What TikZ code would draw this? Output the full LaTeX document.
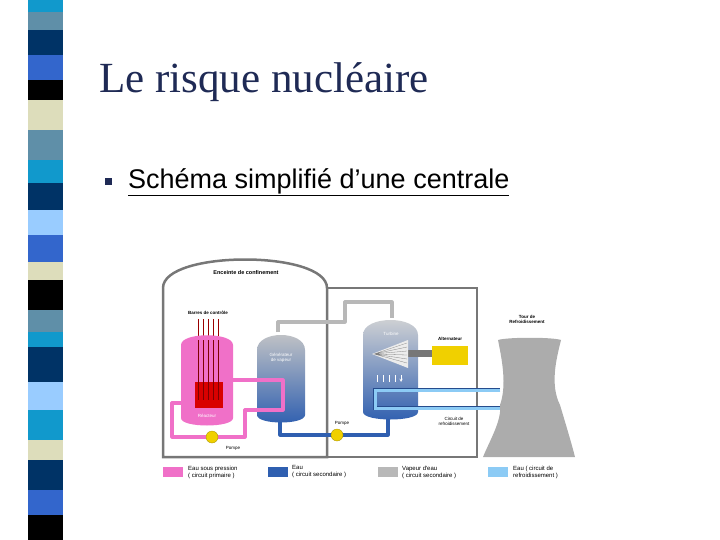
\documentclass[tikz,border=0pt]{standalone}
\usepackage{fontspec}
\setmainfont{Liberation Serif}
\newfontfamily\arial{Liberation Sans}
\usetikzlibrary{shapes.geometric}
\definecolor{scyan}{HTML}{1199CC}\definecolor{sslate}{HTML}{5F8FA8}
\definecolor{snavy}{HTML}{003366}\definecolor{sblue}{HTML}{3366CC}
\definecolor{scream}{HTML}{DDDDBB}\definecolor{slight}{HTML}{99CCFF}
\definecolor{wallg}{HTML}{777777}\definecolor{pinkc}{HTML}{F070C8}
\definecolor{bluec}{HTML}{2F5FB0}\definecolor{steamc}{HTML}{B8B8B8}
\definecolor{coolc}{HTML}{8CCBF5}\definecolor{yel}{HTML}{F0D000}
\definecolor{titlec}{HTML}{1F2A55}
\tikzset{wall/.style={draw=wallg,line width=2.5pt},
 pipe/.style={line width=3.2pt,line join=round},
 lab/.style={font=\arial\fontsize{4.5}{5}\selectfont,align=center,inner sep=0pt},
 leg/.style={font=\arial\fontsize{6}{7}\selectfont,align=left,anchor=west,inner sep=0pt},
 legbox/.style={minimum width=20pt,minimum height=10pt,inner sep=0pt}}
\begin{document}
\begin{tikzpicture}[x=1pt,y=-1pt]
\useasboundingbox (0,0) rectangle (720,540);
% stripe
\foreach \a/\b/\c in {0/12/scyan,12/30/sslate,30/55/snavy,55/80/sblue,80/100/black,100/130/scream,130/160/sslate,160/183/scyan,183/210/snavy,210/235/slight,235/262/sblue,262/280/scream,280/310/black,310/332/sslate,332/347/scyan,347/382/snavy,382/410/slight,410/440/scyan,440/460/scream,460/490/snavy,490/515/sblue,515/540/black}
 \fill[\c] (28,\a) rectangle (63,\b);
\node[anchor=west,inner sep=0pt,text=titlec,font=\fontsize{43}{48}\selectfont] (title) at (99,82) {Le risque nucléaire};
\node[fill=titlec,minimum size=7pt,inner sep=0pt] (bul) at (108,182) {};
\node[anchor=west,inner sep=0pt,font=\arial\fontsize{27}{30}\selectfont] (sub) at (128,182) {\underline{Schéma simplifié d’une centrale}};
% buildings
\draw[wall] (327,288) rectangle (477,457);
\draw[wall,fill=white] (163,457) -- (163,288) .. controls (163,250) and (327,250) .. (327,288) -- (327,457) -- cycle;
\node[lab,font=\arial\bfseries\fontsize{5.5}{6}\selectfont] (enc) at (246,273) {Enceinte de confinement};
% steam pipe
\draw[pipe,draw=steamc] (278,332) -- (278,322) -- (345,322) -- (345,302) -- (392,302) -- (392,318);
% secondary
\draw[pipe,draw=bluec] (280,420) -- (280,435) -- (388,435) -- (388,418);
% reactor
\draw[thick,red!60!black] \foreach \x in {198,203,208,213,218}{(\x,319) -- (\x,385)};
\node[lab,font=\arial\bfseries\fontsize{4.5}{5}\selectfont] (barres) at (208,313) {Barres de contrôle};
\fill[pinkc] (181,345) .. controls (181,332) and (233,332) .. (233,345) -- (233,418) .. controls (233,428) and (181,428) .. (181,418) -- cycle;
\fill[red!85!black] (195,382) rectangle (223,408);
\draw[red!50!black,thick] \foreach \x in {198,203,208,213,218}{(\x,340) -- (\x,400)};
\node[lab,text=white] (reac) at (207,416) {Réacteur};
% SG
\shade[top color=steamc!80,bottom color=bluec] (257,350) .. controls (257,330) and (305,330) .. (305,350) -- (305,415) .. controls (305,425) and (257,425) .. (257,415) -- cycle;
\node[lab,text=white] (sg) at (281,358) {Générateur\\de vapeur};
% primary loop
\draw[pipe,draw=pinkc] (233,380) -- (283,380) -- (283,410) -- (245,410) -- (245,437) -- (172,437) -- (172,403) -- (190,403);
\node[circle,fill=yel,draw=yel!70!black,line width=0.3pt,minimum size=12pt,inner sep=0pt] (p1) at (212,437) {};
\node[lab] (pompe1) at (233,448) {Pompe};
\node[circle,fill=yel,draw=yel!70!black,line width=0.3pt,minimum size=12pt,inner sep=0pt] (p2) at (337,435) {};
\node[lab] (pompe2) at (342,423) {Pompe};
% turbine
\shade[top color=steamc!60,bottom color=bluec] (363,335) .. controls (363,315) and (418,315) .. (418,335) -- (418,412) .. controls (418,422) and (363,422) .. (363,412) -- cycle;
\node[lab,text=white] (turb) at (391,334) {Turbine};
\fill[wallg] (408,350) rectangle (432,357);
\fill[white!85!gray] (372,354) -- (408,340) -- (408,368) -- cycle;
\draw[gray,line width=0.3pt] \foreach \y in {343,347,351,355,359,363}{(374,354) -- (407,\y)};
\draw[white,->,>=stealth,line width=0.5pt] \foreach \x in {377,383,389,395,401}{(\x,375) -- (\x,382)};
\node[fill=yel,minimum width=36pt,minimum height=19pt,inner sep=0pt] (alt) at (450,355) {};
\node[lab,font=\arial\bfseries\fontsize{4.5}{5}\selectfont] (altl) at (450,339) {Alternateur};
% cooling loop
\draw[line width=4.5pt,draw=bluec!80!black] (500,390) -- (375,390) -- (375,408) -- (500,408);
\draw[line width=3pt,draw=coolc] (500,390) -- (375,390) -- (375,408) -- (500,408);
\fill[gray!65] (498,340) .. controls (508,337) and (552,337) .. (561,340) .. controls (556,360) and (550,385) .. (560,405) .. controls (566,425) and (572,445) .. (575,457) -- (483,457) .. controls (490,440) and (502,420) .. (500,405) .. controls (507,385) and (502,360) .. (498,340) -- cycle;
\node[lab,font=\arial\bfseries\fontsize{4.5}{5}\selectfont] (tour) at (527,319) {Tour de\\Refroidissement};
\node[lab] (circ) at (454,421) {Circuit de\\refroidissement};
% legend
\node[legbox,fill=pinkc] (l1) at (173,472) {};
\node[leg] at (188,472) {Eau sous pression\\( circuit primaire )};
\node[legbox,fill=bluec] (l2) at (278,472) {};
\node[leg] at (292,472) {Eau\\( circuit secondaire )};
\node[legbox,fill=steamc] (l3) at (388,472) {};
\node[leg] at (402,472) {Vapeur d'eau\\( circuit secondaire )};
\node[legbox,fill=coolc] (l4) at (498,472) {};
\node[leg] at (513,472) {Eau ( circuit de\\refroidissement )};
\end{tikzpicture}
\end{document}
